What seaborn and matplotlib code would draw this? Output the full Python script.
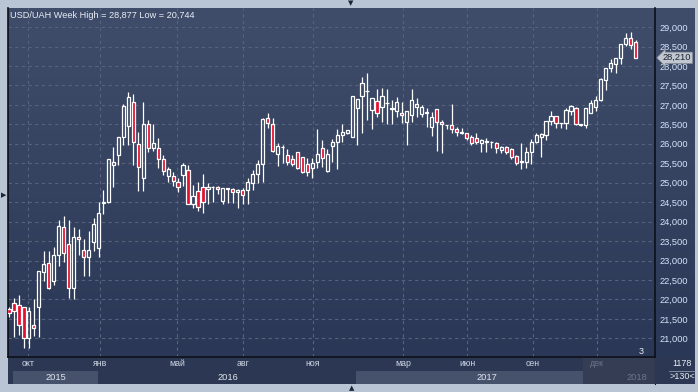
import numpy as np
import matplotlib
matplotlib.use('Agg')
import matplotlib.pyplot as plt
import matplotlib.transforms as mtransforms
from matplotlib.colors import LinearSegmentedColormap
import seaborn as sns

# weekly USD/UAH candles
open_ = [21.75, 21.90, 21.86, 21.80, 21.00, 21.34, 21.81, 22.71, 22.93, 22.48,
         23.13, 23.85, 23.42, 22.29, 23.60, 23.27, 23.08, 23.48, 23.31, 24.49,
         24.50, 25.46, 25.70, 26.17, 26.47, 27.07, 25.99, 25.11, 26.50, 25.90,
         25.88, 25.60, 25.16, 25.17, 25.01, 25.20, 25.33, 24.44, 24.79, 24.88,
         24.83, 24.88, 24.88, 24.54, 24.84, 24.83, 24.75, 24.81, 24.80, 25.00,
         25.22, 25.48, 26.66, 26.50, 25.75, 25.91, 25.70, 25.61, 25.78, 25.65,
         25.47, 25.39, 25.54, 25.88, 25.30, 25.95, 26.05, 26.22, 26.27, 26.18,
         26.93, 27.23, 27.35, 26.87, 27.11, 26.95, 27.04, 26.89, 26.84, 26.78,
         26.55, 26.74, 26.94, 26.77, 26.79, 26.42, 26.89, 26.56, 26.48, 26.48,
         26.37, 26.29, 26.27, 26.18, 26.14, 26.03, 26.05, 26.04, 26.01, 25.84,
         25.91, 25.86, 25.69, 25.53, 25.52, 25.78, 26.05, 26.17, 26.22, 26.58,
         26.72, 26.53, 26.53, 26.84, 26.91, 26.48, 26.48, 26.80, 26.94, 27.13,
         27.64, 27.94, 28.04, 28.20, 28.56, 28.71, 28.62]
high = [21.80, 22.03, 22.11, 21.81, 21.80, 22.01, 22.73, 23.25, 23.25, 23.34,
        24.04, 24.14, 24.04, 23.85, 23.81, 23.55, 23.76, 24.08, 24.51, 24.81,
        25.60, 25.91, 26.17, 27.02, 27.32, 27.27, 26.31, 27.07, 26.61, 26.50,
        26.16, 25.71, 25.41, 25.28, 25.11, 25.50, 25.46, 24.94, 25.03, 25.22,
        24.98, 24.92, 24.92, 24.86, 24.87, 24.87, 24.83, 24.86, 25.11, 25.33,
        25.58, 26.67, 26.80, 26.65, 26.01, 25.97, 25.86, 25.71, 25.80, 25.67,
        25.63, 25.63, 26.37, 26.10, 25.87, 26.12, 26.37, 26.50, 26.36, 27.24,
        27.15, 27.72, 27.83, 27.18, 27.40, 27.43, 27.41, 27.12, 27.21, 27.08,
        26.84, 27.40, 27.17, 27.00, 26.91, 26.82, 26.89, 26.61, 26.49, 27.02,
        26.42, 26.40, 26.28, 26.22, 26.27, 26.12, 26.14, 26.06, 26.05, 25.94,
        25.94, 25.88, 25.71, 26.01, 25.91, 26.12, 26.28, 26.28, 26.58, 26.84,
        26.72, 26.54, 26.91, 26.99, 26.95, 26.51, 26.91, 27.13, 27.23, 27.68,
        27.95, 28.17, 28.20, 28.56, 28.86, 28.877, 28.67]
low = [21.55, 21.04, 21.09, 20.744, 20.76, 21.07, 21.04, 22.47, 22.27, 22.37,
       22.87, 22.95, 22.03, 22.00, 23.13, 22.61, 22.59, 23.25, 23.09, 24.20,
       24.47, 24.90, 25.46, 25.97, 25.97, 25.46, 24.79, 24.79, 25.80, 25.82,
       25.39, 25.20, 25.03, 24.92, 24.77, 24.92, 24.45, 24.36, 24.26, 24.23,
       24.44, 24.50, 24.70, 24.44, 24.47, 24.49, 24.36, 24.44, 24.44, 24.80,
       24.98, 25.03, 26.40, 25.80, 25.43, 25.50, 25.45, 25.43, 25.35, 25.24,
       25.18, 25.13, 25.37, 25.40, 25.28, 25.54, 25.35, 26.05, 26.26, 26.17,
       25.97, 26.29, 26.61, 26.38, 26.69, 26.57, 26.52, 26.52, 26.70, 26.54,
       25.97, 26.55, 26.70, 26.68, 26.42, 26.21, 25.82, 25.77, 26.37, 26.28,
       26.21, 26.26, 26.10, 25.97, 25.99, 25.78, 25.80, 25.90, 25.77, 25.77,
       25.74, 25.62, 25.46, 25.34, 25.37, 25.47, 26.01, 25.67, 26.10, 26.48,
       26.40, 26.40, 26.37, 26.74, 26.48, 26.46, 26.40, 26.78, 26.83, 27.11,
       27.38, 27.85, 27.83, 28.04, 28.51, 28.43, 28.21]
close_ = [21.64, 21.69, 21.33, 21.00, 21.69, 21.26, 22.73, 22.90, 22.29, 23.14,
          23.89, 23.19, 22.29, 23.60, 23.54, 23.08, 23.27, 23.93, 24.21, 24.50,
          25.60, 25.52, 26.17, 26.97, 27.20, 26.04, 25.40, 26.50, 25.88, 26.01,
          25.61, 25.30, 25.34, 25.05, 24.90, 25.46, 24.45, 24.66, 24.37, 24.50,
          24.88, 24.89, 24.83, 24.86, 24.86, 24.75, 24.81, 24.68, 25.01, 25.22,
          25.48, 26.63, 26.53, 25.82, 25.94, 25.93, 25.54, 25.47, 25.38, 25.27,
          25.28, 25.50, 25.75, 25.64, 25.73, 26.05, 26.22, 26.31, 26.35, 27.23,
          27.14, 27.55, 27.36, 27.18, 26.78, 27.23, 27.06, 26.91, 27.08, 26.74,
          26.84, 27.13, 27.02, 26.94, 26.80, 26.68, 26.55, 26.51, 26.49, 26.37,
          26.31, 26.31, 26.14, 26.01, 26.04, 26.10, 26.06, 26.05, 25.88, 25.91,
          25.80, 25.67, 25.50, 25.54, 25.78, 26.05, 26.22, 26.25, 26.58, 26.71,
          26.53, 26.54, 26.87, 26.97, 26.50, 26.50, 26.91, 27.04, 27.13, 27.67,
          27.94, 28.07, 28.20, 28.56, 28.71, 28.54, 28.21]

month_labels = ['окт', 'янв', 'май', 'авг', 'ноя', 'мар', 'июн', 'сен', 'дек']
month_pos = [3.8, 18.3, 33.8, 47.0, 61.1, 79.2, 92.1, 105.3, 118.2]
year_labels = ['2015', '2016', '2017', '2018']
year_pos = [9.4, 44.0, 96.1, 126.3]
year_edges = [0.8, 17.9, 69.8, 115.4]
price_ticks = np.arange(21.0, 29.01, 0.5)
title = 'USD/UAH Week High = 28,877 Low = 20,744'
last_price = close_[-1]

sns.set_style('dark')
plt.rcParams['font.family'] = ['Liberation Sans', 'DejaVu Sans']

W, H = 698, 392
fig = plt.figure(figsize=(W / 100, H / 100), dpi=100, facecolor='#b9c5d4')


def box(x0, y0, x1, y1):
    return [x0 / W, 1 - y1 / H, (x1 - x0) / W, (y1 - y0) / H]


bg = LinearSegmentedColormap.from_list('bg', ['#2b3756', '#3f4d6a'])
grad = np.linspace(0, 1, 256).reshape(-1, 1)

side = fig.add_axes(box(655, 8, 695, 357))
side.imshow(grad, extent=[0, 1, 0, 1], aspect='auto', cmap=bg, origin='lower')
side.set_axis_off()
side.set_zorder(0)

ax = fig.add_axes(box(8, 8, 655, 357))
ax.set_zorder(1)
ax.imshow(grad, extent=[0, 1, 0, 1], transform=ax.transAxes, aspect='auto',
          cmap=bg, origin='lower', zorder=0)

o, h, l, c = map(np.asarray, (open_, high, low, close_))
x = np.arange(len(c))
up = c >= o
lo = np.minimum(o, c)
hi = np.maximum(o, c)
hgt = np.maximum(hi - lo, 0.015)
ax.vlines(x, hi, h, color='white', lw=0.9, zorder=3)
ax.vlines(x, l, lo, color='white', lw=0.9, zorder=3)
ax.bar(x, hgt, bottom=lo, width=0.64,
       color=['none' if u else '#e3112f' for u in up],
       edgecolor='white', linewidth=0.9, zorder=4)

ax.set_xlim(-0.2, 129.9)
ax.set_ylim(20.52, 29.49)
ax.set_xticks(month_pos)
ax.set_yticks(price_ticks)
ax.set_yticklabels([f'{v:,.3f}'.replace('.', ',') for v in price_ticks])
ax.yaxis.tick_right()
ax.tick_params(axis='y', length=0, pad=3, labelsize=6.7, labelcolor='#d5e3fb')
ax.tick_params(axis='x', length=0, labelbottom=False)
ax.grid(True, color='#56637e', linestyle=(0, (3, 3)), linewidth=0.8, zorder=1)
ax.set_axisbelow(True)
ax.spines['top'].set_visible(False)
for s in ['right', 'left', 'bottom']:
    ax.spines[s].set_color('#0c1018')
    ax.spines[s].set_linewidth(1.2)

ax.text(2 / 647, 1 - 7.5 / 349, title, transform=ax.transAxes, ha='left',
        va='center', fontsize=6.6, color='#e9eef6')

trans = mtransforms.blended_transform_factory(ax.transAxes, ax.transData)
ax.text(1.012, last_price, f'{last_price:.3f}'.replace('.', ','),
        transform=trans, ha='left', va='center', fontsize=6.7,
        color='#1b2232', zorder=10, clip_on=False,
        bbox=dict(boxstyle='larrow,pad=0.12', fc='#c2c6ce', ec='#8d939e', lw=0.5))
ax.text(633 / 647, 1 - 343 / 349, '3', transform=ax.transAxes, ha='center',
        va='center', fontsize=6.5, color='#e9eef6')

# time band below the chart
band = fig.add_axes(box(8, 357, 655, 384))
band.set_facecolor('#2c3853')
band.set_xlim(ax.get_xlim())
band.set_ylim(0, 2)
band.axvspan(year_edges[0], year_edges[1], 0, 0.5, color='#46526c', lw=0)
band.axvspan(year_edges[2], year_edges[3], 0, 0.5, color='#46526c', lw=0)
band.axvspan(year_edges[3], 129.9, 0, 1, color='#343d53', lw=0)
for p, m in zip(month_pos, month_labels):
    band.text(p, 1.5, m, ha='center', va='center', fontsize=6.3,
              color='#6b7488' if p > year_edges[3] else '#cdd5e3')
for p, y in zip(year_pos, year_labels):
    band.text(p, 0.5, y, ha='center', va='center', fontsize=6.7,
              color='#6b7488' if p > year_edges[3] else '#dfe5ee')
band.set_xticks([])
band.set_yticks([])
for s in band.spines.values():
    s.set_visible(False)
band.spines['right'].set_visible(True)
band.spines['right'].set_color('#0c1018')

corner = fig.add_axes(box(655, 357, 695, 384))
corner.set_facecolor('#2c3853')
corner.set_xticks([])
corner.set_yticks([])
for s in corner.spines.values():
    s.set_visible(False)
corner.text(0.68, 0.75, '1178', ha='center', va='center', fontsize=6.5,
            color='#e6ebf3', transform=corner.transAxes)
corner.plot([0.35, 0.98], [0.5, 0.5], color='#8c98ad', lw=0.6,
            transform=corner.transAxes)
corner.text(0.68, 0.27, '>130<', ha='center', va='center', fontsize=6.5,
            color='#e6ebf3', transform=corner.transAxes)

# window chrome arrows
fig.text(351 / W, 1 - 3 / H, '▼', ha='center', va='center', fontsize=5,
         color='#1c2438', family='DejaVu Sans')
fig.text(3.5 / W, 1 - 195 / H, '▶', ha='center', va='center', fontsize=5,
         color='#1c2438', family='DejaVu Sans')
fig.text(352 / W, 1 - 388 / H, '▲', ha='center', va='center', fontsize=5,
         color='#1c2438', family='DejaVu Sans')

fig.savefig('out.png', dpi=100, facecolor=fig.get_facecolor())
